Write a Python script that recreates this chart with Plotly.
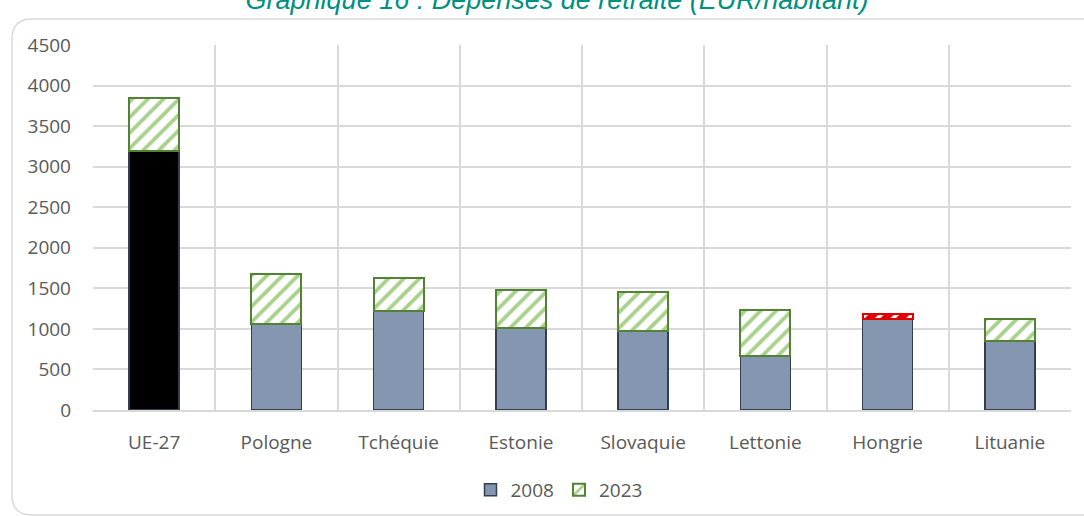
import plotly.graph_objects as go

categories = ["UE-27", "Pologne", "Tchéquie", "Estonie", "Slovaquie", "Lettonie", "Hongrie", "Lituanie"]
values_2008 = [3195, 1055, 1218, 1005, 980, 670, 1125, 855]
values_2023 = [3852, 1680, 1630, 1478, 1458, 1230, 1178, 1125]
y_ticks = [0, 500, 1000, 1500, 2000, 2500, 3000, 3500, 4000, 4500]
title_text = "Graphique 16 : Dépenses de retraite (EUR/habitant)"

increase = [b - a for a, b in zip(values_2008, values_2023)]

L, R, T, B = 93, 13, 45, 106
W, H = 1084, 516
pw, ph = W - L - R, H - T - B

fill_2008 = ["#000000" if c == "UE-27" else "#8496b0" for c in categories]
line_2023 = ["#e00000" if c == "Hongrie" else "#548235" for c in categories]
bg_2023 = ["#e00000" if c == "Hongrie" else "#ffffff" for c in categories]
fg_2023 = ["#ffffff" if c == "Hongrie" else "#a9d18e" for c in categories]

fig = go.Figure()
fig.add_trace(go.Bar(
    x=categories, y=values_2008, name="2008", width=0.41, showlegend=False,
    marker=dict(color=fill_2008, line=dict(color="#333f50", width=1.5)),
))
# legend proxy for 2008 (no data, only the legend swatch colour)
fig.add_trace(go.Bar(
    x=[None], y=[None], name="2008",
    marker=dict(color="#8496b0", line=dict(color="#333f50", width=1.5)),
))
fig.add_trace(go.Bar(
    x=categories, y=increase, name="2023", width=0.41,
    marker=dict(color="#ffffff",
                line=dict(color=line_2023, width=2),
                pattern=dict(shape="/", fgcolor=fg_2023, bgcolor=bg_2023,
                             size=11, solidity=0.35, fillmode="replace")),
))

# rounded border frame (chart area outline)
def px(x):
    return (x - L) / pw
def py(y):
    return (H - B - y) / ph

x0, x1, y0, y1, r = 12, 1100, 19, 515, 20
path = (f"M {px(x0 + r)},{py(y0)} L {px(x1)},{py(y0)} "
        f"M {px(x0 + r)},{py(y0)} Q {px(x0)},{py(y0)} {px(x0)},{py(y0 + r)} "
        f"L {px(x0)},{py(y1 - r)} Q {px(x0)},{py(y1)} {px(x0 + r)},{py(y1)} "
        f"L {px(x1)},{py(y1)}")
fig.add_shape(type="path", xref="paper", yref="paper", path=path,
              line=dict(color="#d9d9d9", width=1.5), layer="below")

fig.update_layout(
    width=W, height=H,
    margin=dict(l=L, r=R, t=T, b=B, autoexpand=False),
    barmode="stack",
    plot_bgcolor="white", paper_bgcolor="white",
    font=dict(family="Open Sans", size=19, color="#595959"),
    title=dict(text=title_text, x=557 / W, xanchor="center",
               y=1 - 8.5 / H, yanchor="bottom", yref="container",
               font=dict(family="Liberation Sans", size=27, color="#009081",
                         style="italic")),
    legend=dict(orientation="h", x=px(559), xanchor="center", y=py(490),
                yanchor="middle", font=dict(size=19, color="#595959"),
                itemwidth=30, tracegroupgap=0, traceorder="normal"),
    showlegend=True,
)
fig.update_xaxes(
    type="category", tickson="boundaries", showgrid=True,
    gridcolor="#d9d9d9", gridwidth=1.5, ticks="", showline=True,
    linecolor="#d9d9d9", linewidth=1.5, mirror=False,
    range=[-0.5, len(categories) - 0.5], ticklabelstandoff=14,
)
fig.update_yaxes(
    range=[0, 4500], tickvals=y_ticks, showgrid=True, gridcolor="#d9d9d9",
    gridwidth=1.5, zeroline=False, showline=False, ticks="",
    ticklabelstandoff=21,
)
fig.write_html("out.html", config={"displayModeBar": False},
               post_script="document.body.style.margin='0';")
